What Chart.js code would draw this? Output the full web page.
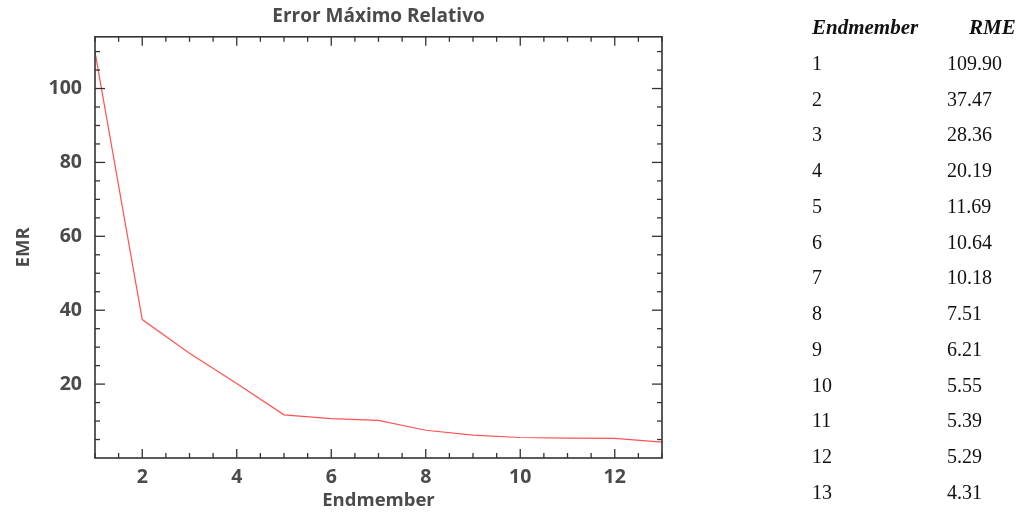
<!DOCTYPE html>
<html>
<head>
<meta charset="utf-8">
<script src="https://cdn.jsdelivr.net/npm/chart.js@4/dist/chart.umd.min.js"></script>
<style>
  html, body { margin: 0; padding: 0; background: #fff; }
  #wrap { position: relative; width: 1023px; height: 512px; overflow: hidden; }
  #chart { position: absolute; left: 0; top: 0; }
  #tbl { position: absolute; left: 812px; top: 10px; font-family: "Liberation Serif", "Times New Roman", serif; font-size: 20px; color: #111; }
  #tbl .row { position: relative; height: 35.75px; line-height: 35.75px; }
  #tbl .c1 { position: absolute; left: 0; white-space: nowrap; }
  #tbl .c2 { position: absolute; left: 135px; white-space: nowrap; }
  #tbl .head { font-weight: bold; font-style: italic; font-size: 21px; }
  #tbl .head .c2 { left: 157px; }
</style>
</head>
<body>
<div id="wrap">
  <canvas id="chart" width="1023" height="512"></canvas>
  <div id="tbl"></div>
</div>
<script>
// data
var endmembers = [1, 2, 3, 4, 5, 6, 7, 8, 9, 10, 11, 12, 13];
var rme = [109.90, 37.47, 28.36, 20.19, 11.69, 10.64, 10.18, 7.51, 6.21, 5.55, 5.39, 5.29, 4.31];
var xTicks = [2, 4, 6, 8, 10, 12];
var yTicks = [20, 40, 60, 80, 100];
var tableHeader = ['Endmember', 'RME'];

var axisColor = '#4a4a4a';
var tickFont = { family: 'Open Sans', size: 19.5, weight: 'bold' };
var titleFont = { family: 'Open Sans', size: 19, weight: 'bold' };
var labelFont = { family: 'Open Sans', size: 18.5, weight: 'bold' };

// table on the right
var tbl = document.getElementById('tbl');
var html = '<div class="row head"><span class="c1">' + tableHeader[0] + '</span><span class="c2">' + tableHeader[1] + '</span></div>';
for (var i = 0; i < endmembers.length; i++) {
  html += '<div class="row"><span class="c1">' + endmembers[i] + '</span><span class="c2">' + rme[i].toFixed(2) + '</span></div>';
}
tbl.innerHTML = html;

// inward ticks + frame, like the original plot
var frameTicks = {
  id: 'frameTicks',
  afterDraw: function(chart) {
    var ctx = chart.ctx, a = chart.chartArea;
    var xs = chart.scales.x, ys = chart.scales.y;
    ctx.save();
    ctx.strokeStyle = '#333';
    ctx.lineWidth = 1.3;
    var tick = function(x1, y1, x2, y2) {
      ctx.beginPath(); ctx.moveTo(x1, y1); ctx.lineTo(x2, y2); ctx.stroke();
    };
    // x ticks every 0.5, major on labelled values
    for (var v = xs.min; v <= xs.max + 1e-9; v += 0.5) {
      var px = xs.getPixelForValue(v);
      var len = xTicks.indexOf(v) >= 0 ? 9 : 5;
      tick(px, a.bottom, px, a.bottom - len);
      tick(px, a.top, px, a.top + len);
    }
    // y ticks every 5, major every 20
    for (var w = 5; w < ys.max; w += 5) {
      var py = ys.getPixelForValue(w);
      var len2 = yTicks.indexOf(w) >= 0 ? 10 : 5;
      tick(a.left, py, a.left + len2, py);
      tick(a.right, py, a.right - len2, py);
    }
    ctx.lineWidth = 1.6;
    ctx.strokeRect(a.left, a.top, a.right - a.left, a.bottom - a.top);
    ctx.restore();
  }
};

new Chart(document.getElementById('chart'), {
  type: 'line',
  data: {
    datasets: [{
      data: endmembers.map(function(e, i) { return { x: e, y: rme[i] }; }),
      borderColor: 'rgba(255, 40, 40, 0.8)',
      borderWidth: 1.2,
      pointRadius: 0,
      tension: 0,
      fill: false
    }]
  },
  options: {
    responsive: false,
    animation: false,
    layout: { padding: { left: 0, right: 361, top: 5, bottom: 0 } },
    plugins: {
      legend: { display: false },
      tooltip: { enabled: false },
      title: {
        display: true,
        text: 'Error Máximo Relativo',
        color: axisColor,
        font: titleFont,
        fullSize: false,
        padding: { top: 0, bottom: 9 }
      }
    },
    scales: {
      x: {
        type: 'linear',
        min: 1,
        max: 13,
        afterBuildTicks: function(s) { s.ticks = xTicks.map(function(v) { return { value: v }; }); },
        afterFit: function(s) { s.height = 54; },
        grid: { display: false, drawTicks: false },
        border: { display: false },
        ticks: { color: axisColor, font: tickFont, padding: 8, maxRotation: 0 },
        title: { display: true, text: 'Endmember', color: axisColor, font: labelFont, padding: { top: -3, bottom: 0 } }
      },
      y: {
        type: 'linear',
        min: 0,
        max: 114,
        afterBuildTicks: function(s) { s.ticks = yTicks.map(function(v) { return { value: v }; }); },
        afterFit: function(s) { s.width = 95; },
        grid: { display: false, drawTicks: false },
        border: { display: false },
        ticks: { color: axisColor, font: tickFont, padding: 13 },
        title: { display: true, text: 'EMR', color: axisColor, font: labelFont, padding: { top: 13, bottom: 0 } }
      }
    }
  },
  plugins: [frameTicks]
});
</script>
</body>
</html>
